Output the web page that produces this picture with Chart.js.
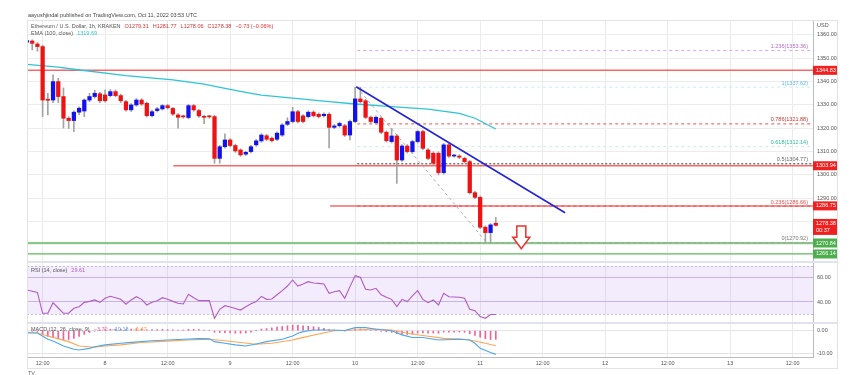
<!DOCTYPE html>
<html>
<head>
<meta charset="utf-8">
<script src="https://cdn.jsdelivr.net/npm/chart.js@4.4.0/dist/chart.umd.min.js"></script>
<style>
  html, body { margin: 0; padding: 0; background: #fff; }
  #wrap { width: 861px; height: 375px; position: relative; }
</style>
</head>
<body>
<div id="wrap"><canvas id="chart"></canvas></div>
<script>
// hourly candles, hour 0 = Oct 7 00:00 UTC
const hours = [
  9, 10, 11, 12, 13, 14, 15, 16, 17, 18,
  19, 20, 21, 22, 23, 24, 25, 26, 27, 28,
  29, 30, 31, 32, 33, 34, 35, 36, 37, 38,
  39, 40, 41, 42, 43, 44, 45, 46, 47, 48,
  49, 50, 51, 52, 53, 54, 55, 56, 57, 58,
  59, 60, 61, 62, 63, 64, 65, 66, 67, 68,
  69, 70, 71, 72, 73, 74, 75, 76, 77, 78,
  79, 80, 81, 82, 83, 84, 85, 86, 87, 88,
  89, 90, 91, 92, 93, 94, 95, 96, 97, 98,
  99
];
const opens = [
  1356.9, 1357.4, 1356.1, 1355.0, 1332.3, 1332.1, 1340.0, 1333.6, 1324.3, 1323.3,
  1326.9, 1327.4, 1332.1, 1333.6, 1334.8, 1334.3, 1334.0, 1335.7, 1334.0, 1331.4,
  1327.9, 1330.0, 1332.1, 1330.7, 1325.4, 1327.6, 1328.3, 1329.7, 1328.5, 1325.7,
  1325.0, 1324.6, 1329.7, 1327.6, 1325.0, 1325.0, 1325.0, 1307.1, 1312.1, 1315.0,
  1312.6, 1310.7, 1308.9, 1310.0, 1312.9, 1314.6, 1316.8, 1315.7, 1315.3, 1317.1,
  1321.7, 1322.9, 1327.1, 1325.3, 1325.0, 1326.9, 1326.0, 1325.4, 1326.0, 1320.4,
  1321.1, 1321.1, 1317.1, 1322.9, 1332.6, 1331.8, 1324.7, 1322.4, 1324.3, 1318.3,
  1314.3, 1316.7, 1306.4, 1312.4, 1310.0, 1314.3, 1318.6, 1310.7, 1309.3, 1309.3,
  1301.0, 1312.9, 1308.1, 1308.1, 1307.1, 1305.7, 1292.4, 1290.4, 1277.6, 1275.3,
  1279.3
];
const highs = [
  1358.6, 1357.9, 1356.8, 1355.6, 1335.0, 1342.9, 1341.4, 1337.3, 1325.0, 1327.5,
  1329.2, 1332.6, 1335.0, 1336.3, 1335.4, 1336.5, 1336.6, 1336.4, 1334.6, 1332.0,
  1330.6, 1332.8, 1332.7, 1331.2, 1327.8, 1329.0, 1330.2, 1330.3, 1329.0, 1326.3,
  1325.6, 1330.3, 1330.2, 1328.1, 1325.6, 1325.5, 1325.6, 1312.7, 1317.6, 1315.6,
  1313.2, 1311.2, 1310.2, 1312.7, 1315.2, 1317.7, 1317.4, 1316.3, 1318.5, 1322.0,
  1324.5, 1329.0, 1327.7, 1325.9, 1327.5, 1327.5, 1326.6, 1326.6, 1326.6, 1321.6,
  1322.7, 1321.7, 1323.5, 1337.6, 1337.6, 1332.4, 1325.3, 1325.3, 1324.9, 1318.9,
  1320.0, 1317.3, 1313.0, 1313.0, 1314.9, 1319.2, 1319.2, 1311.3, 1309.9, 1309.9,
  1313.5, 1313.5, 1308.8, 1308.7, 1307.7, 1306.3, 1293.0, 1291.0, 1278.2, 1279.2,
  1281.8
];
const lows = [
  1355.8, 1353.6, 1353.0, 1325.0, 1325.7, 1331.0, 1331.0, 1320.1, 1319.9, 1318.6,
  1325.8, 1325.0, 1331.4, 1332.9, 1331.0, 1331.2, 1333.4, 1333.5, 1331.0, 1327.3,
  1327.2, 1329.4, 1329.8, 1324.8, 1324.9, 1327.0, 1327.8, 1328.2, 1325.5, 1320.0,
  1324.3, 1324.0, 1327.3, 1324.7, 1322.0, 1324.3, 1305.0, 1305.0, 1311.5, 1312.0,
  1309.7, 1308.0, 1308.3, 1309.4, 1312.3, 1314.0, 1314.7, 1314.1, 1314.7, 1316.5,
  1321.1, 1322.3, 1322.3, 1322.3, 1324.4, 1324.8, 1324.4, 1324.8, 1311.6, 1319.8,
  1320.5, 1316.5, 1315.0, 1322.3, 1330.8, 1324.1, 1322.3, 1321.8, 1317.7, 1314.1,
  1313.7, 1296.4, 1305.8, 1309.4, 1309.4, 1313.7, 1310.8, 1306.5, 1304.4, 1300.0,
  1300.4, 1307.5, 1307.6, 1307.0, 1305.1, 1291.8, 1289.8, 1277.0, 1271.4, 1271.0,
  1278.1
];
const closes = [
  1357.6, 1356.4, 1355.0, 1332.1, 1332.0, 1340.0, 1333.6, 1324.3, 1323.3, 1326.9,
  1328.6, 1332.1, 1333.6, 1335.0, 1331.8, 1331.8, 1335.7, 1334.0, 1331.8, 1327.9,
  1330.0, 1332.1, 1330.4, 1325.4, 1327.1, 1328.3, 1329.7, 1328.8, 1326.1, 1324.7,
  1324.9, 1329.7, 1327.9, 1325.3, 1324.7, 1324.9, 1307.1, 1312.1, 1315.0, 1312.6,
  1310.3, 1308.6, 1309.7, 1312.1, 1314.6, 1317.1, 1315.3, 1314.7, 1317.9, 1321.4,
  1322.9, 1327.1, 1322.9, 1322.9, 1326.9, 1325.4, 1325.0, 1326.0, 1320.4, 1321.0,
  1322.1, 1317.1, 1322.9, 1332.6, 1331.4, 1324.7, 1322.9, 1324.7, 1318.3, 1314.7,
  1316.7, 1306.4, 1312.4, 1310.0, 1314.3, 1318.6, 1311.4, 1307.1, 1305.0, 1301.0,
  1312.9, 1308.1, 1308.3, 1307.6, 1305.7, 1292.4, 1290.4, 1277.6, 1275.3, 1278.6,
  1278.4
];

// EMA 100
const emaHours = [9, 15, 18, 28, 37, 43, 47, 51, 54, 60, 67, 72, 79, 86, 92, 95, 99];
const emaValues = [1347.4, 1346.2, 1345.3, 1342.6, 1340.7, 1338.9, 1337.1, 1335.4, 1334.2,
  1332.9, 1331.4, 1330.4, 1329.3, 1328.2, 1326.4, 1324.3, 1319.7];

// RSI 14
const rsiValues = [
  50.0, 49.0, 48.0, 30.6, 30.6, 39.4, 35.0, 30.6, 30.6, 34.7,
  36.1, 39.7, 40.5, 41.7, 39.7, 43.1, 44.7, 43.5, 42.2, 38.1,
  41.7, 44.4, 42.2, 37.5, 39.7, 41.1, 43.6, 42.2, 40.5, 38.9,
  38.3, 46.4, 43.5, 41.1, 41.1, 41.1, 26.4, 33.9, 36.9, 35.8,
  34.5, 33.3, 36.1, 38.5, 40.3, 44.7, 42.2, 42.5, 46.0, 49.4,
  53.3, 58.3, 53.3, 55.0, 56.9, 55.8, 55.5, 55.0, 47.2, 48.5,
  49.4, 43.1, 52.8, 61.9, 60.6, 50.6, 50.0, 51.4, 46.0, 43.9,
  42.2, 36.1, 42.2, 40.3, 45.0, 49.4, 42.2, 39.4, 41.7, 37.5,
  47.2, 44.4, 44.2, 43.9, 43.1, 33.9, 32.8, 27.8, 26.4, 29.6,
  29.6
];
const rsiBand = [30, 70];

// MACD 12 26 9
const macdHours = [9, 11, 13, 14, 16, 18, 19, 21, 22, 24, 27, 29, 33, 36, 39, 42, 44, 45, 47, 49,
  51, 53, 55, 58, 60, 61, 62, 64, 67, 70, 72, 74, 76, 79, 81, 83, 85, 88, 92, 94, 95, 96, 98, 99];
const macdValues = [-0.9, -1.0, -3.7, -4.4, -6.6, -8.0, -8.3, -7.6, -6.9, -6.1, -5.4, -5.0, -4.3, -4.0,
  -3.7, -3.4, -3.5, -4.7, -5.4, -6.1, -6.6, -5.7, -4.7, -3.7, -2.3, -1.1, -0.4, 0.3, 0.3, 0.1,
  1.3, 1.3, 0.6, 0.0, -1.8, -2.9, -2.9, -4.0, -3.7, -4.0, -5.4, -7.6, -9.4, -10.18];
const signalHours = [9, 11, 13, 17, 19, 22, 24, 27, 31, 35, 40, 44, 47, 50, 53, 56, 60, 61, 65, 68,
  72, 76, 79, 82, 85, 89, 93, 95, 97, 99];
const signalValues = [-0.9, -1.0, -2.3, -4.7, -6.6, -7.1, -6.6, -6.1, -5.1, -4.6, -4.0, -3.7, -4.3,
  -5.1, -5.8, -5.4, -4.0, -3.4, -1.4, 0.0, 0.3, 0.7, 0.3, -1.1, -2.1, -3.3, -3.7, -4.4, -5.4, -6.47];
const histValues = [
  0.0, -0.2, -0.5, -1.5, -2.5, -3.0, -3.5, -4.0, -3.8, -3.3,
  -2.5, -1.6, -0.8, -0.2, 0.3, 0.5, 0.6, 0.7, 0.7, 0.5,
  0.7, 0.8, 0.7, 0.4, 0.5, 0.5, 0.6, 0.5, 0.4, 0.3,
  0.3, 0.6, 0.6, 0.5, 0.3, 0.2, -0.7, -0.8, -0.9, -1.0,
  -1.1, -1.1, -1.0, -0.6, 0.1, 0.7, 0.9, 1.2, 1.5, 1.8,
  2.1, 2.4, 2.3, 2.1, 1.9, 1.7, 1.4, 1.0, 0.5, 0.3,
  0.2, -0.2, 0.2, 0.8, 0.7, 0.4, 0.2, 0.0, -0.3, -0.5,
  -0.7, -1.3, -1.4, -1.6, -1.5, -1.0, -1.0, -1.1, -1.0, -1.1,
  -0.6, -0.6, -0.6, -0.6, -0.7, -1.3, -2.0, -2.8, -3.5, -3.8,
  -3.7
];

// drawings
const redLevels = [1344.83, 1303.94, 1286.75];
const redStarts = [9.0, 37.1, 67.2];
const greenLevels = [1270.84, 1266.14];
const fibNames = ['1.236', '1', '0.786', '0.618', '0.5', '0.236', '0'];
const fibPrices = [1353.36, 1337.62, 1321.88, 1312.14, 1304.77, 1286.66, 1270.92];
const fibColors = ['#d7a6e6', '#cbeaf8', '#f0504a', '#c8ece2', '#333333', '#f0504a', '#a0a0a0'];
const fibTextColors = ['#b06cc6', '#5bbfe8', '#c0392b', '#2fb79a', '#666666', '#e05050', '#777777'];
const fibStart = 72.4;
const trendHours = [72.2, 112.3];
const trendPrices = [1337.8, 1283.8];
const fibDiagHours = [72.3, 97.3];
const fibDiagPrices = [1337.62, 1270.92];
const arrowHour = 103.9;
const arrowPrices = [1278.1, 1273.3, 1268.4];
const lastPrice = 1278.38;

const xMin = 9.0, xMax = 159.9;
const xTickHours = [12, 24, 36, 48, 60, 72, 84, 96, 108, 120, 132, 144, 156];
const xTickLabels = ['12:00', '8', '12:00', '9', '12:00', '10', '12:00', '11', '12:00', '12', '12:00', '13', '12:00'];
const priceTicks = [1270, 1280, 1290, 1300, 1310, 1320, 1330, 1340, 1350, 1360];
const rsiTicks = [40, 60];
const macdTicks = [-10, 0];

const UP = '#1212ee', DOWN = '#ee1212';
const FONT = 'Liberation Sans, Arial, sans-serif';

function lvl(x0, x1, y) { return [{ x: x0, y: y }, { x: x1, y: y }]; }
function lineSet(data, color, axis, extra) {
  return Object.assign({
    type: 'line', data: data, yAxisID: axis, borderColor: color, borderWidth: 1,
    pointRadius: 0, tension: 0, fill: false
  }, extra || {});
}

const datasets = [];
datasets.push({
  type: 'bar', yAxisID: 'yMain', order: 1, grouped: false,
  data: hours.map((h, i) => ({ x: h, y: [opens[i], closes[i]] })),
  backgroundColor: hours.map((h, i) => closes[i] >= opens[i] ? UP : DOWN),
  barThickness: 3.6, minBarLength: 1, borderWidth: 0
});
datasets.push({
  type: 'bar', yAxisID: 'yMain', order: 2, grouped: false,
  data: hours.map((h, i) => ({ x: h, y: [lows[i], highs[i]] })),
  backgroundColor: '#a3a3a3', barThickness: 1, borderWidth: 0
});
datasets.push(lineSet(emaHours.map((h, i) => ({ x: h, y: emaValues[i] })), '#2ec4d6', 'yMain', { borderWidth: 1.3, order: 3 }));
redLevels.forEach((p, i) => datasets.push(lineSet(lvl(redStarts[i], xMax, p), 'rgba(244,54,54,0.75)', 'yMain', { borderWidth: 1.5, order: 6 })));
greenLevels.forEach(p => datasets.push(lineSet(lvl(xMin, xMax, p), '#5cb85c', 'yMain', { borderWidth: 1.3, order: 6 })));
fibPrices.forEach((p, i) => datasets.push(lineSet(lvl(fibStart, xMax, p), fibColors[i], 'yMain', {
  borderWidth: 1, borderDash: i === 4 ? [2, 2] : [3, 3], order: 5
})));
datasets.push(lineSet(fibDiagHours.map((h, i) => ({ x: h, y: fibDiagPrices[i] })), '#b0b0b0', 'yMain', { borderDash: [3, 3], order: 5 }));
datasets.push(lineSet(trendHours.map((h, i) => ({ x: h, y: trendPrices[i] })), '#2424d8', 'yMain', { borderWidth: 1.6, order: 0 }));
datasets.push(lineSet(hours.map((h, i) => ({ x: h, y: rsiValues[i] })), '#b05cc4', 'yRsi', { borderWidth: 1.1 }));
datasets.push({
  type: 'bar', yAxisID: 'yMacd', grouped: false, order: 4,
  data: hours.map((h, i) => ({ x: h, y: histValues[i] })),
  backgroundColor: '#f0609a', barThickness: 1, borderWidth: 0
});
datasets.push(lineSet(signalHours.map((h, i) => ({ x: h, y: signalValues[i] })), '#ffa552', 'yMacd', { borderWidth: 1.1, order: 2 }));
datasets.push(lineSet(macdHours.map((h, i) => ({ x: h, y: macdValues[i] })), '#4aa8f0', 'yMacd', { borderWidth: 1.1, order: 1 }));

function parts(ctx, x, y, list) {
  list.forEach(([t, c]) => {
    ctx.fillStyle = c;
    ctx.fillText(t, x, y);
    x += ctx.measureText(t).width + 4;
  });
}
function tag(ctx, x0, y, w, lines, color) {
  const h = lines.length * 7 + 2;
  ctx.fillStyle = color;
  ctx.fillRect(x0, y - 4.5, w, h);
  ctx.fillStyle = '#fff';
  lines.forEach((t, i) => ctx.fillText(t, x0 + 3, y + i * 7));
}

const decor = {
  id: 'decor',
  beforeDatasetsDraw(chart) {
    const { ctx, chartArea: a, scales } = chart;
    const yR = scales.yRsi;
    const t = yR.getPixelForValue(rsiBand[1]), b = yR.getPixelForValue(rsiBand[0]);
    ctx.save();
    ctx.fillStyle = 'rgba(160, 110, 230, 0.13)';
    ctx.fillRect(a.left, t, a.right - a.left, b - t);
    ctx.strokeStyle = '#c8b6e2';
    ctx.setLineDash([2, 2]);
    ctx.lineWidth = 1;
    [t, b].forEach(y => { ctx.beginPath(); ctx.moveTo(a.left, Math.round(y) + 0.5); ctx.lineTo(a.right, Math.round(y) + 0.5); ctx.stroke(); });
    ctx.restore();
  },
  afterDraw(chart) {
    const { ctx, chartArea: a, scales } = chart;
    const x = scales.x, yM = scales.yMain, yR = scales.yRsi, yC = scales.yMacd;
    ctx.save();
    ctx.textBaseline = 'middle';
    ctx.font = '5.5px ' + FONT;

    // fib labels
    ctx.textAlign = 'right';
    fibPrices.forEach((p, i) => {
      ctx.fillStyle = fibTextColors[i];
      ctx.fillText(fibNames[i] + '(' + p.toFixed(2) + ')', a.right - 5, yM.getPixelForValue(p) - 4);
    });
    ctx.textAlign = 'left';

    // arrow
    const ax = x.getPixelForValue(arrowHour);
    const [pt, pn, pp] = arrowPrices.map(v => yM.getPixelForValue(v));
    ctx.beginPath();
    ctx.moveTo(ax - 4.5, pt); ctx.lineTo(ax + 4.5, pt); ctx.lineTo(ax + 4.5, pn);
    ctx.lineTo(ax + 8.5, pn); ctx.lineTo(ax, pp); ctx.lineTo(ax - 8.5, pn); ctx.lineTo(ax - 4.5, pn);
    ctx.closePath();
    ctx.fillStyle = '#fff'; ctx.fill();
    ctx.strokeStyle = '#e8322f'; ctx.lineWidth = 1.5; ctx.stroke();

    // separators and frame
    ctx.strokeStyle = '#e0e3eb'; ctx.lineWidth = 2;
    [yM.bottom, yR.bottom].forEach(y => { ctx.beginPath(); ctx.moveTo(a.left, y); ctx.lineTo(a.right + 24, y); ctx.stroke(); });
    ctx.strokeStyle = '#e3e3e3'; ctx.lineWidth = 1;
    ctx.strokeRect(a.left + 0.5, a.top + 0.5, a.right + 24 - a.left, 368 - a.top);

    // right axis tags
    const w = 24;
    redLevels.forEach(p => tag(ctx, a.right, yM.getPixelForValue(p), w, [p.toFixed(2)], '#f21f1f'));
    tag(ctx, a.right, yM.getPixelForValue(lastPrice) - 2, w, [lastPrice.toFixed(2), '00:37'], '#f21f1f');
    greenLevels.forEach(p => tag(ctx, a.right, yM.getPixelForValue(p), w, [p.toFixed(2)], '#4cae4c'));
    ctx.fillStyle = '#555';
    ctx.fillText('USD', a.right + 4, a.top + 5);

    // header texts
    ctx.fillStyle = '#444';
    ctx.fillText('aayushjindal published on TradingView.com, Oct 11, 2022 03:53 UTC', 28, 15);
    parts(ctx, 31, 26, [['Ethereum / U.S. Dollar, 1h, KRAKEN', '#555'], ['O1279.31', '#d33'], ['H1281.77', '#d33'],
      ['L1278.06', '#d33'], ['C1278.38', '#d33'], ['\u22120.73 (\u22120.06%)', '#d33']]);
    parts(ctx, 31, 33.5, [['EMA (100, close)', '#555'], ['1319.69', '#2ec4d6']]);
    parts(ctx, 31, yR.top + 8, [['RSI (14, close)', '#555'], ['29.61', '#b05cc4']]);
    parts(ctx, 31, yC.top + 6.5, [['MACD (12, 26, close, 9)', '#555'], ['\u22123.70', '#f0609a'],
      ['\u221210.18', '#4aa8f0'], ['\u22126.47', '#ff9a40']]);
    ctx.fillStyle = '#666';
    ctx.fillText('TV', 28, 373);
    ctx.restore();
  }
};

function yAxis(min, max, ticks, weight, gridColor, fmt) {
  return {
    type: 'linear', position: 'right', stack: 'panes', stackWeight: weight,
    min: min, max: max, offset: false,
    afterBuildTicks: s => { s.ticks = ticks.map(v => ({ value: v })); },
    afterFit: s => { s.width = 24; },
    grid: { color: gridColor, drawTicks: false, lineWidth: 1 },
    border: { color: '#b9bcc4' },
    ticks: { padding: 4, color: '#555', font: { size: 5.5, family: FONT }, callback: fmt }
  };
}

new Chart(document.getElementById('chart'), {
  type: 'bar',
  data: { datasets: datasets },
  options: {
    responsive: true,
    maintainAspectRatio: false,
    devicePixelRatio: 1,
    animation: false,
    events: [],
    layout: { padding: { left: 27, right: 24, top: 20, bottom: 7 } },
    plugins: { legend: { display: false }, tooltip: { enabled: false } },
    scales: {
      x: {
        type: 'linear', min: xMin, max: xMax, offset: false,
        afterBuildTicks: s => { s.ticks = xTickHours.map(v => ({ value: v })); },
        afterFit: s => { s.height = 11; },
        grid: { color: '#ebebeb', drawTicks: false, offset: false },
        border: { color: '#b9bcc4' },
        ticks: {
          padding: 3, color: '#555', font: { size: 5.5, family: FONT }, maxRotation: 0,
          callback: v => xTickLabels[xTickHours.indexOf(v)]
        }
      },
      yMain: yAxis(1262.7, 1366.4, priceTicks, 242, '#ececec', v => v.toFixed(2)),
      yRsi: yAxis(22.5, 73.3, rsiTicks, 61, '#cdbfe3', v => v.toFixed(2)),
      yMacd: yAxis(-11.3, 3.3, macdTicks, 34, '#e4e4e4', v => v.toFixed(2))
    }
  },
  plugins: [decor]
});
</script>
</body>
</html>
